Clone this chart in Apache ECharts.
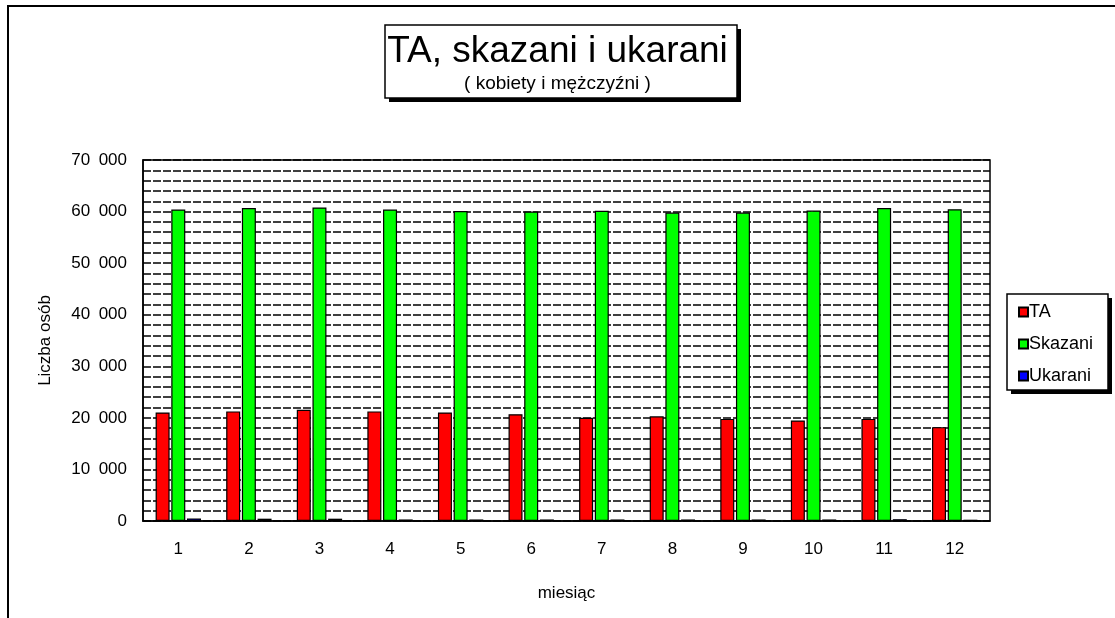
<!DOCTYPE html>
<html>
<head>
<meta charset="utf-8">
<script src="https://cdn.jsdelivr.net/npm/echarts@6/dist/echarts.min.js"></script>
<style>
  html, body { margin: 0; padding: 0; background: #fff; }
  #chart { width: 1115px; height: 618px; }
</style>
</head>
<body>
<div id="chart"></div>
<script>
// months
const months = ['1', '2', '3', '4', '5', '6', '7', '8', '9', '10', '11', '12']

// values
const ta = [21050, 21250, 21550, 21250, 21050, 20700, 20000, 20300, 19800, 19500, 19800, 18200]
const skazani = [60400, 60700, 60800, 60400, 60100, 60000, 60150, 59800, 59800, 60200, 60700, 60450]
const ukarani = [500, 450, 450, 300, 300, 300, 300, 300, 300, 300, 350, 250]

const fontFamily = '"Liberation Sans", Arial, sans-serif'

const chart = echarts.init(document.getElementById('chart'))

// thousands separated by a space
const fmt = v => String(v).replace(/\B(?=(\d{3})+(?!\d))/g, '\u2002')

const barStyle = color => ({ color: color, borderColor: '#000', borderWidth: 1.2 })

const gridDash = { color: '#000', type: [8, 2], width: 1.5 }

const option = {
  backgroundColor: '#fff',
  animation: false,
  textStyle: { fontFamily: fontFamily },
  graphic: [
    // outer frame
    { type: 'rect', shape: { x: 8, y: 6, width: 1200, height: 700 }, style: { fill: 'none', stroke: '#000', lineWidth: 2 }, z: 0 },
    // title box + shadow
    { type: 'rect', shape: { x: 389, y: 29, width: 352, height: 73 }, style: { fill: '#000' }, z: 1 },
    { type: 'rect', shape: { x: 385, y: 25, width: 352, height: 73 }, style: { fill: '#fff', stroke: '#000', lineWidth: 1.5 }, z: 2 },
    // legend box + shadow
    { type: 'rect', shape: { x: 1011, y: 298, width: 101, height: 96 }, style: { fill: '#000' }, z: 1 },
    { type: 'rect', shape: { x: 1007, y: 294, width: 101, height: 96 }, style: { fill: '#fff', stroke: '#000', lineWidth: 1.5 }, z: 2 }
  ],
  title: {
    text: 'TA, skazani i ukarani',
    subtext: '( kobiety i mężczyźni )',
    left: 'center',
    top: 28,
    itemGap: 4,
    textStyle: { fontFamily: fontFamily, fontSize: 37, fontWeight: 'normal', color: '#000' },
    subtextStyle: { fontFamily: fontFamily, fontSize: 19, color: '#000' },
    z: 5
  },
  legend: {
    data: ['TA', 'Skazani', 'Ukarani'],
    orient: 'vertical',
    left: 1013,
    top: 298,
    itemWidth: 9,
    itemHeight: 9,
    itemGap: 14,
    icon: 'rect',
    textStyle: { fontFamily: fontFamily, fontSize: 18, color: '#000', padding: [0, 0, 0, -4] },
    z: 5
  },
  grid: {
    left: 143,
    right: 125,
    top: 160,
    bottom: 97,
    show: true,
    borderColor: '#000',
    borderWidth: 1.5,
    backgroundColor: 'transparent'
  },
  xAxis: {
    type: 'category',
    data: months,
    name: 'miesiąc',
    nameLocation: 'middle',
    nameGap: 64,
    nameTextStyle: { fontFamily: fontFamily, fontSize: 17, color: '#000' },
    axisLine: { lineStyle: { color: '#000', width: 1.5 } },
    axisTick: { show: true, inside: true, length: 3, alignWithLabel: true, lineStyle: { color: '#000' } },
    axisLabel: { fontFamily: fontFamily, fontSize: 17, color: '#000', margin: 20 }
  },
  yAxis: {
    type: 'value',
    min: 0,
    max: 70000,
    interval: 10000,
    name: 'Liczba osób',
    nameLocation: 'middle',
    nameGap: 89,
    nameRotate: 90,
    nameTextStyle: { fontFamily: fontFamily, fontSize: 17, color: '#000' },
    axisLine: { show: true, lineStyle: { color: '#000', width: 1.5 } },
    axisTick: { show: false },
    axisLabel: { fontFamily: fontFamily, fontSize: 17, color: '#000', margin: 16, formatter: fmt },
    splitLine: { show: true, lineStyle: gridDash },
    minorTick: { show: false, splitNumber: 5 },
    minorSplitLine: { show: true, lineStyle: gridDash }
  },
  series: [
    { name: 'TA', type: 'bar', data: ta, barWidth: 14, barGap: '12%', barCategoryGap: '36%', itemStyle: barStyle('#ff0000') },
    { name: 'Skazani', type: 'bar', data: skazani, barWidth: 14, barGap: '12%', itemStyle: barStyle('#00ff00') },
    { name: 'Ukarani', type: 'bar', data: ukarani, barWidth: 14, barGap: '12%', itemStyle: barStyle('#0000ff') }
  ]
}

chart.setOption(option)
</script>
</body>
</html>
